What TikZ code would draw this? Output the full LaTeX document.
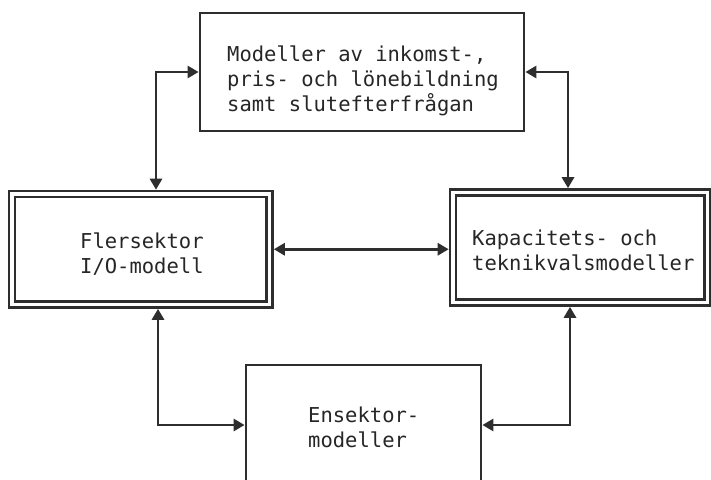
\documentclass[tikz,border=0pt]{standalone}
\usepackage{fontspec}
\newfontfamily\boxfont{DejaVu Sans Mono}
\usetikzlibrary{arrows.meta}
\begin{document}
\begin{tikzpicture}[x=1pt,y=-1pt,
  plainbox/.style={draw=black!82, line width=2.8pt, rectangle, inner sep=0pt, outer sep=1.4pt},
  dualbox/.style={draw=black!82, line width=2.6pt, double=white, double distance=3.4pt,
                  rectangle, inner sep=0pt, outer sep=4.3pt},
  boxtext/.style={font=\boxfont\fontsize{20.5}{25}\selectfont, text=black!85,
                  align=left, inner sep=0pt, anchor=north west},
  conn/.style={draw=black!82, line width=2.8pt,
               {Triangle[length=11pt,width=12pt]}-{Triangle[length=11pt,width=12pt]}}
]
% page
\fill[white] (0,0) rectangle (711,479);
\useasboundingbox (0,0) rectangle (711,479);

% boxes
\node[plainbox, minimum width=324pt, minimum height=118pt] (top) at (362,72) {};
\node[dualbox, minimum width=257.5pt, minimum height=110.5pt] (flers) at (140.75,249.25) {};
\node[dualbox, minimum width=254.5pt, minimum height=110pt] (kap) at (580.25,247.5) {};
\node[plainbox, minimum width=235pt, minimum height=120pt] (ens) at (363.5,425) {};

% box texts
\node[boxtext] (ttop) at (227,45.4) {Modeller av inkomst-,\\pris- och lönebildning\\samt slutefterfrågan};
\node[boxtext] (tflers) at (80,232.4) {Flersektor\\I/O-modell};
\node[boxtext] (tkap) at (472,229.4) {Kapacitets- och\\teknikvalsmodeller};
\node[boxtext] (tens) at (308,406.4) {Ensektor-\\modeller};

% two-way links
\draw[conn] (top.west) -| ([xshift=15.25pt]flers.north);
\draw[conn] (top.east) -| ([xshift=-12.25pt]kap.north);
\draw[conn] (flers.east) -- (flers.east -| kap.west);
\draw[conn] ([xshift=17.25pt]flers.south) |- (ens.west);
\draw[conn] ([xshift=-10.25pt]kap.south) |- (ens.east);
\end{tikzpicture}
\end{document}
